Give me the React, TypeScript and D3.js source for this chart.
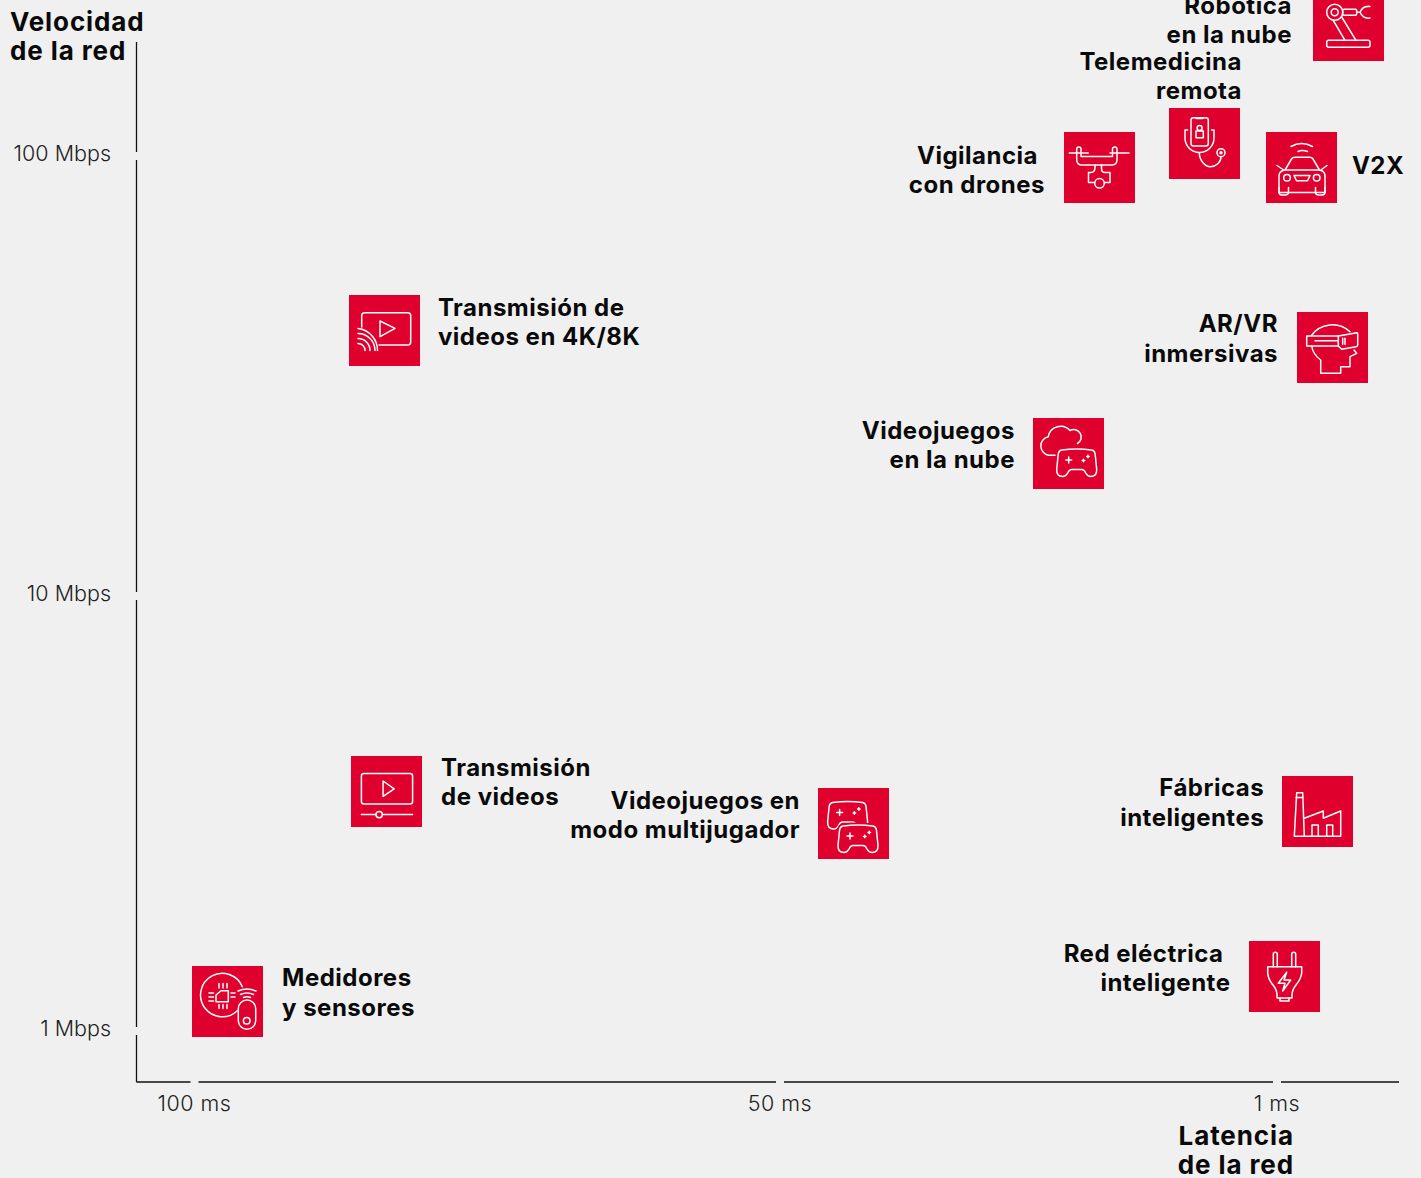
import React from "react";
import * as d3 from "d3";

// ---------- data ----------
const useCases = ["robot", "telemed", "drone", "v2x", "stream4k", "arvr", "cloudgame", "video", "multi", "factory", "grid", "meter"];
const labels = [
  ["Robótica", "en la nube"],
  ["Telemedicina", "remota"],
  ["Vigilancia", "con drones"],
  ["V2X"],
  ["Transmisión de", "videos en 4K/8K"],
  ["AR/VR", "inmersivas"],
  ["Videojuegos", "en la nube"],
  ["Transmisión", "de videos"],
  ["Videojuegos en", "modo multijugador"],
  ["Fábricas", "inteligentes"],
  ["Red eléctrica", "inteligente"],
  ["Medidores", "y sensores"],
];
const latencyMs = [0.473, 8.15, 18.5, 0.82, 83.78, 0.59, 21.56, 83.6, 42.75, 0.70, 0.945, 97.18];
const speedMbps = [198, 106.8, 94.2, 94.2, 40.1, 36.7, 21.1, 3.55, 3.0, 3.2, 1.334, 1.17];
const speedTicks = [100, 10, 1];
const speedTickLabels = ["100 Mbps", "10 Mbps", "1 Mbps"];
const latencyTicks = [100, 50, 1];
const latencyTickLabels = ["100 ms", "50 ms", "1 ms"];
const yTitle = ["Velocidad", "de la red"];
const xTitle = ["Latencia", "de la red"];

// ---------- layout ----------
const W = 1421, H = 1178, TILE = 71;
const RED = "#e0002d", BG = "#f0f0f0";
const FONT = "Inter, 'Liberation Sans', sans-serif";
const x = d3.scaleLinear().domain([100, 50, 1, 0.1]).range([194.5, 780, 1277, 1399]);
const y = d3.scaleLog().domain([1, 10, 100]).range([1031, 596, 156]);
const axisX = 136.5, axisY = 1082, axisTop = 42, axisRight = 1399, GAP = 4;

// label placement relative to the tile centre: [anchor, [dx, dy] per line]
const place: [string, number[][]][] = [
  ["end", [[-56.5, -11.5], [-56.5, 17.5]]],
  ["end", [[37.5, -73.5], [37.5, -44.5]]],
  ["end", [[-61.5, -3.5], [-54.5, 25.5]]],
  ["start", [[50.5, 6.5]]],
  ["start", [[53.5, -14.5], [53.5, 14.5]]],
  ["end", [[-54.5, -15.5], [-54.5, 14.5]]],
  ["end", [[-53.5, -14.5], [-53.5, 14.5]]],
  ["start", [[54.5, -15.5], [54.5, 13.5]]],
  ["end", [[-53.5, -14.5], [-53.5, 14.5]]],
  ["end", [[-53.5, -15.5], [-53.5, 14.5]]],
  ["end", [[-61, -14.5], [-54, 14.5]]],
  ["start", [[54.5, -15.5], [54.5, 14.5]]],
];

const PAD = "M5 1.5Q20-.5 35 1.5Q38 2 38.5 6L40 21Q40.3 28 34 28Q31 28 29 24.5Q27.5 21 25 21H15Q12.5 21 11 24.5Q9 28 6 28Q-.3 28 0 21L1.5 6Q2 2 5 1.5Z";
const Pad = ({ tx, ty }: { tx: number; ty: number }) => (
  <g transform={`translate(${tx},${ty})`}>
    <path d={PAD} fill={RED} />
    <path d="M9 11.5H15M12 8.5V14.5M25.5 12H28M26.75 10.8V13.2M30 8H32.5M31.25 6.8V9.2" />
  </g>
);

const icons: Record<string, React.ReactNode> = {
  robot: (
    <>
      <rect x="13.7" y="50.3" width="43.3" height="7" rx="2" />
      <circle cx="21.7" cy="22.3" r="8" />
      <circle cx="21.7" cy="22.3" r="3.5" />
      <path d="M20 30L32 50.3M28.7 27L43 50.3" />
      <rect x="29.7" y="19.3" width="14" height="6" rx="1.5" />
      <path d="M43.7 22.3H47M57 16.5Q50 15.5 47 22.3Q50 29 57 28" />
    </>
  ),
  telemed: (
    <>
      <rect x="22" y="9.7" width="17.3" height="28.3" rx="2.5" />
      <path d="M27 10.5H34" />
      <rect x="27" y="23" width="7.3" height="6.7" />
      <circle cx="30.6" cy="19.9" r="2.5" />
      <path d="M18.5 22H16V30A14.5 14.5 0 0 0 45 30V22H42.5" />
      <path d="M30.3 44.7C30.3 52 36 58.7 41.5 58.7C47 58.7 52 54 52 49" />
      <circle cx="52" cy="44.7" r="4" />
      <circle cx="52" cy="44.7" r="1" />
    </>
  ),
  drone: (
    <>
      <path d="M5.3 21H24.3M46 21H65" />
      <path d="M12.7 21V17Q12.7 15 14.8 15Q17 15 17 17V24.5H48.5V17Q48.5 15 50.8 15Q53 15 53 17V27.5Q53 33 48 33H18Q12.7 33 12.7 27.5V21" />
      <path d="M31 33V35Q31 40.5 27 40.5H24.5V50.5H30.5M40.5 50.5H46V40.5H41Q37.5 40.5 37.5 36.5V33" />
      <circle cx="35.5" cy="51.3" r="4.8" />
    </>
  ),
  v2x: (
    <>
      <path d="M25 14.5Q35.5 8.5 46.5 14.5M32 19.5Q36 17.3 41.5 19.5" />
      <path d="M19 38L25.5 27Q26.5 25.3 29 25.3H43.5Q46 25.3 47 27L53.5 38" />
      <path d="M13 44V60.5H59V44Q59 39 53.5 38H19Q13 39 13 44Z" />
      <path d="M11 33.5L17 37.5M61 33.5L55.5 37.5" />
      <circle cx="21" cy="45.7" r="3.3" />
      <circle cx="50.7" cy="45.7" r="3.3" />
      <path d="M28 43.5H44L41.5 48.7H30.5Z" />
      <path d="M13 55.5V60Q13 63 16 63H19Q22.5 63 22.5 60V55.5M49.5 55.5V60Q49.5 63 52.5 63H56Q59 63 59 60V55.5" />
    </>
  ),
  stream4k: (
    <>
      <path d="M12.7 32V20.7Q12.7 17.7 15.7 17.7H58.7Q61.7 17.7 61.7 20.7V47Q61.7 50 58.7 50H30" />
      <path d="M31 26L46 33.3L31 41.7Z" />
      <path d="M9 48.5A7 7 0 0 1 16 55.5M9 43.5A12 12 0 0 1 21 55.5M9 38.5A17 17 0 0 1 26 55.5M9 33.5A22 22 0 0 1 28.5 55.5" />
    </>
  ),
  arvr: (
    <>
      <path d="M14 24A26 26 0 0 1 53 19.7" />
      <path d="M14.7 34C15.5 40 19 44.5 23.7 48V61.3H43.7V54.7H53V44.7L59.7 41.3L57 38" />
      <rect x="9.7" y="24" width="31.6" height="10" />
      <path d="M18 28.7H41.3" />
      <path d="M41.3 24L60 20.7Q60.7 20.7 60.7 22V33Q60.7 34.7 59 34.7L44.7 37.3L41.3 34" />
      <path d="M45.7 26.3V32.3M48 26.3V32.3" />
    </>
  ),
  cloudgame: (
    <>
      <path d="M22 37.3H15.5A9.5 9.5 0 0 1 15.3 18.7A12.5 12.5 0 0 1 37 12.5A7.5 7.5 0 0 1 44.5 25.5" />
      <Pad tx={23.7} ty={30.5} />
    </>
  ),
  video: (
    <>
      <rect x="10.4" y="17.5" width="51.2" height="30.4" rx="2.5" />
      <path d="M32.1 25L43.2 32.9L32.1 40.4Z" />
      <path d="M10.4 58.6H25M31.4 58.6H61.6" />
      <circle cx="28.2" cy="58.6" r="3.2" />
    </>
  ),
  multi: (
    <>
      <Pad tx={9.6} ty={13} />
      <g stroke={RED} strokeWidth="5"><path d={PAD} transform="translate(20,36.5)" fill={RED} /></g>
      <Pad tx={20} ty={36.5} />
    </>
  ),
  factory: (
    <>
      <path d="M12.3 60.3H58.7V35L41.3 42.3V35L22.3 42.3M12.3 60.3L14.7 16.7H20.7L22.3 60.3M14 21.5H21" />
      <path d="M30 60.3V49H36.3V60.3M44.7 60.3V49H50.7V60.3" />
    </>
  ),
  grid: (
    <>
      <path d="M24.3 25.7V13.3Q24.3 11.3 26.3 11.3Q28.3 11.3 28.3 13.3V25.7M42.7 25.7V13.3Q42.7 11.3 44.7 11.3Q46.7 11.3 46.7 13.3V25.7" />
      <path d="M18.7 25.7H52.7V32Q52 38 47 44Q43 49 43 54V57H28V54Q28 49 24 44Q19 38 18.7 32Z" />
      <path d="M31 57V60H40V57" />
      <path d="M37.7 31.3L29.3 42.3H36L33.7 50L41.7 39H35Z" />
    </>
  ),
  meter: (
    <>
      <path d="M50.3 20.7A21.7 21.7 0 1 0 45.3 44.7" />
      <rect x="46.3" y="34" width="17.4" height="29.3" rx="8.7" />
      <circle cx="54.7" cy="54.7" r="3.3" />
      <path d="M46 25Q55 21 64 25M48.5 28.5Q55 25.5 61.5 28.5M51.5 31.5Q55 30 58.5 31.5" />
      <path d="M24 35.7H36.3V24.7H29L24 29Z" />
      <path d="M17 27H21.5M17 31H21.5M17 35H21.5M39 27H43M39 31H43M27 17.5V22M31 17.5V22M35 17.5V22M27 38.5V42.5M31 38.5V42.5M35 38.5V42.5" />
    </>
  ),
};

// axis line split around each tick, drawn through a scale
const segments = (stops: number[], start: number, end: number) => {
  const s = [...stops].sort((a, b) => a - b);
  const out: [number, number][] = [];
  let from = start;
  for (const p of s) { out.push([from, p - GAP]); from = p + GAP; }
  out.push([from, end]);
  return out;
};

export default function App() {
  const yTickPx = speedTicks.map((t) => y(t));
  const xTickPx = latencyTicks.map((t) => x(t));
  return (
    <svg width={W} height={H} viewBox={`0 0 ${W} ${H}`}
      style={{ position: "absolute", left: 0, top: 0, display: "block", background: BG, fontFamily: FONT }}>
      <rect width={W} height={H} fill={BG} />
      <g stroke="#111" strokeWidth="1.3" fill="none">
        {segments(yTickPx, axisTop, axisY).map(([a, b], i) => <line key={i} x1={axisX} x2={axisX} y1={a} y2={b} />)}
        {segments(xTickPx, axisX, axisRight).map(([a, b], i) => <line key={i} x1={a} x2={b} y1={axisY} y2={axisY} />)}
      </g>
      <g fontSize="21.5" fontWeight="300" fill="#222">
        {speedTicks.map((t, i) => <text key={t} x={111} y={y(t) + 5} textAnchor="end">{speedTickLabels[i]}</text>)}
        {latencyTicks.map((t, i) => <text key={t} x={x(t)} y={1111} textAnchor="middle" letterSpacing="0.5">{latencyTickLabels[i]}</text>)}
      </g>
      <g fontSize="26" fontWeight="700" fill="#0a0a0a" letterSpacing="0.9">
        {yTitle.map((l, i) => <text key={l} x={10} y={31 + i * 29}>{l}</text>)}
        {xTitle.map((l, i) => <text key={l} x={1294} y={1145 + i * 29} textAnchor="end">{l}</text>)}
      </g>
      {useCases.map((id, i) => {
        const cx = x(latencyMs[i]), cy = y(speedMbps[i]);
        const [anchor, offs] = place[i];
        return (
          <g key={id}>
            <g transform={`translate(${Math.round(cx - TILE / 2)},${Math.round(cy - TILE / 2)})`}>
              <rect width={TILE} height={TILE} fill={RED} />
              <g fill="none" stroke="#fff" strokeWidth="1.5" strokeLinejoin="round" strokeLinecap="round">{icons[id]}</g>
            </g>
            <g fontSize="24" fontWeight="700" fill="#0a0a0a" textAnchor={anchor} letterSpacing="0.5">
              {labels[i].map((l, j) => <text key={l} x={cx + offs[j][0]} y={cy + offs[j][1]}>{l}</text>)}
            </g>
          </g>
        );
      })}
    </svg>
  );
}
